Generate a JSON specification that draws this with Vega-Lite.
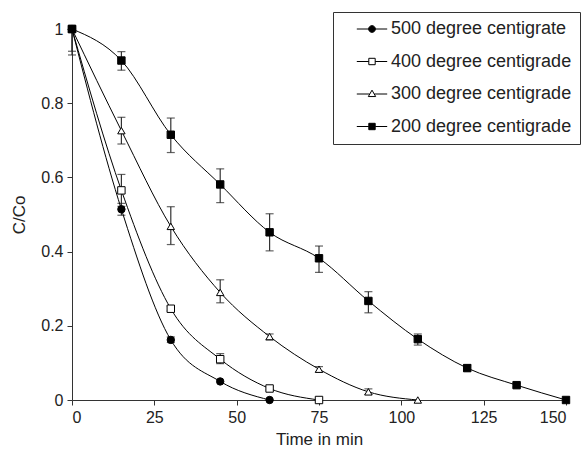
{
  "$schema": "https://vega.github.io/schema/vega-lite/v6.json",
  "width": 494,
  "height": 371,
  "autosize": "none",
  "padding": {"left": 72, "top": 29, "right": 17, "bottom": 57},
  "background": "white",
  "config": {
    "view": {"stroke": null},
    "font": "Liberation Sans",
    "axis": {"labelFont": "Liberation Sans", "titleFont": "Liberation Sans", "labelFontSize": 16, "titleFontSize": 17, "titleFontWeight": "normal", "labelColor": "#222", "titleColor": "#222", "domainColor": "#333", "tickColor": "#333", "tickSize": 5, "grid": false, "labelPadding": 4},
    "legend": {
      "orient": "none",
      "legendX": 261,
      "legendY": -17,
      "padding": 8,
      "strokeColor": "#333",
      "fillColor": "white",
      "symbolSize": 256,
      "symbolOffset": 22,
      "symbolStrokeWidth": 1,
      "symbolStrokeColor": "black",
      "symbolOpacity": 1,
      "labelFont": "Liberation Sans",
      "labelFontSize": 18,
      "labelColor": "#222",
      "labelOffset": 10,
      "labelLimit": 300,
      "rowPadding": 14.5
    }
  },
  "datasets": {
    "pts": [
      {"series": "500 degree centigrate", "time": 0, "c": 1},
      {"series": "500 degree centigrate", "time": 15, "c": 0.514},
      {"series": "500 degree centigrate", "time": 30, "c": 0.162},
      {"series": "500 degree centigrate", "time": 45, "c": 0.05},
      {"series": "500 degree centigrate", "time": 60, "c": 0},
      {"series": "400 degree centigrade", "time": 0, "c": 1},
      {"series": "400 degree centigrade", "time": 15, "c": 0.565},
      {"series": "400 degree centigrade", "time": 30, "c": 0.246},
      {"series": "400 degree centigrade", "time": 45, "c": 0.11},
      {"series": "400 degree centigrade", "time": 60, "c": 0.031},
      {"series": "400 degree centigrade", "time": 75, "c": 0},
      {"series": "300 degree centigrade", "time": 0, "c": 1},
      {"series": "300 degree centigrade", "time": 15, "c": 0.726},
      {"series": "300 degree centigrade", "time": 30, "c": 0.468},
      {"series": "300 degree centigrade", "time": 45, "c": 0.29},
      {"series": "300 degree centigrade", "time": 60, "c": 0.171},
      {"series": "300 degree centigrade", "time": 75, "c": 0.083},
      {"series": "300 degree centigrade", "time": 90, "c": 0.022},
      {"series": "300 degree centigrade", "time": 105, "c": 0},
      {"series": "200 degree centigrade", "time": 0, "c": 1},
      {"series": "200 degree centigrade", "time": 15, "c": 0.915},
      {"series": "200 degree centigrade", "time": 30, "c": 0.715},
      {"series": "200 degree centigrade", "time": 45, "c": 0.581},
      {"series": "200 degree centigrade", "time": 60, "c": 0.452},
      {"series": "200 degree centigrade", "time": 75, "c": 0.382},
      {"series": "200 degree centigrade", "time": 90, "c": 0.267},
      {"series": "200 degree centigrade", "time": 105, "c": 0.164},
      {"series": "200 degree centigrade", "time": 120, "c": 0.086},
      {"series": "200 degree centigrade", "time": 135, "c": 0.04},
      {"series": "200 degree centigrade", "time": 150, "c": 0}
    ],
    "err": [
      {"series": "400 degree centigrade", "time": 0, "lo": 0.93, "hi": 1},
      {"series": "500 degree centigrate", "time": 0, "lo": 0.94, "hi": 1},
      {"series": "500 degree centigrate", "time": 15, "lo": 0.498, "hi": 0.53},
      {"series": "500 degree centigrate", "time": 30, "lo": 0.155, "hi": 0.17},
      {"series": "400 degree centigrade", "time": 15, "lo": 0.522, "hi": 0.608},
      {"series": "400 degree centigrade", "time": 30, "lo": 0.24, "hi": 0.252},
      {"series": "400 degree centigrade", "time": 45, "lo": 0.098, "hi": 0.125},
      {"series": "400 degree centigrade", "time": 60, "lo": 0.027, "hi": 0.036},
      {"series": "300 degree centigrade", "time": 15, "lo": 0.69, "hi": 0.762},
      {"series": "300 degree centigrade", "time": 30, "lo": 0.419, "hi": 0.521},
      {"series": "300 degree centigrade", "time": 45, "lo": 0.262, "hi": 0.324},
      {"series": "300 degree centigrade", "time": 60, "lo": 0.162, "hi": 0.178},
      {"series": "300 degree centigrade", "time": 75, "lo": 0.075, "hi": 0.09},
      {"series": "300 degree centigrade", "time": 90, "lo": 0.015, "hi": 0.03},
      {"series": "200 degree centigrade", "time": 15, "lo": 0.889, "hi": 0.939},
      {"series": "200 degree centigrade", "time": 30, "lo": 0.667, "hi": 0.76},
      {"series": "200 degree centigrade", "time": 45, "lo": 0.532, "hi": 0.623},
      {"series": "200 degree centigrade", "time": 60, "lo": 0.402, "hi": 0.502},
      {"series": "200 degree centigrade", "time": 75, "lo": 0.344, "hi": 0.415},
      {"series": "200 degree centigrade", "time": 90, "lo": 0.235, "hi": 0.292},
      {"series": "200 degree centigrade", "time": 105, "lo": 0.148, "hi": 0.178},
      {"series": "200 degree centigrade", "time": 120, "lo": 0.078, "hi": 0.095},
      {"series": "200 degree centigrade", "time": 135, "lo": 0.035, "hi": 0.045}
    ]
  },
  "layer": [
    {
      "data": {"name": "err"},
      "mark": {"type": "rule", "color": "#333", "strokeWidth": 1.2},
      "encoding": {
        "x": {"field": "time", "type": "quantitative", "scale": {"domain": [0, 150], "nice": false}, "axis": {"values": [0, 25, 50, 75, 100, 125, 150], "title": "Time in min", "titlePadding": 6}},
        "y": {"field": "lo", "type": "quantitative", "scale": {"domain": [0, 1], "nice": false}, "axis": {"values": [0, 0.2, 0.4, 0.6, 0.8, 1], "format": ".1~f", "title": "C/Co", "titlePadding": 12}},
        "y2": {"field": "hi"}
      }
    },
    {
      "data": {"name": "err"},
      "mark": {"type": "tick", "orient": "horizontal", "color": "#222", "size": 8, "thickness": 1.2},
      "encoding": {
        "x": {"field": "time", "type": "quantitative"},
        "y": {"field": "lo", "type": "quantitative"}
      }
    },
    {
      "data": {"name": "err"},
      "mark": {"type": "tick", "orient": "horizontal", "color": "#222", "size": 8, "thickness": 1.2},
      "encoding": {
        "x": {"field": "time", "type": "quantitative"},
        "y": {"field": "hi", "type": "quantitative"}
      }
    },
    {
      "data": {"name": "pts"},
      "mark": {"type": "line", "color": "black", "strokeWidth": 1, "interpolate": "monotone"},
      "encoding": {
        "x": {"field": "time", "type": "quantitative"},
        "y": {"field": "c", "type": "quantitative"},
        "detail": {"field": "series"}
      }
    },
    {
      "data": {"name": "pts"},
      "mark": {"type": "point", "filled": false, "stroke": "black", "strokeWidth": 1, "opacity": 1, "size": 55},
      "encoding": {
        "x": {"field": "time", "type": "quantitative"},
        "y": {"field": "c", "type": "quantitative"},
        "shape": {"field": "series", "type": "nominal", "scale": {"domain": ["500 degree centigrate", "400 degree centigrade", "300 degree centigrade", "200 degree centigrade"], "range": ["circle", "square", "triangle-up", "square"]}, "legend": null},
        "fill": {"field": "series", "type": "nominal", "scale": {"domain": ["500 degree centigrate", "400 degree centigrade", "300 degree centigrade", "200 degree centigrade"], "range": ["black", "white", "white", "black"]}, "legend": null}
      }
    },
    {
      "data": {"name": "pts"},
      "mark": {"type": "point", "filled": false, "stroke": "black", "strokeWidth": 1, "opacity": 0, "size": 256},
      "encoding": {
        "x": {"field": "time", "type": "quantitative"},
        "y": {"field": "c", "type": "quantitative"},
        "fill": {"field": "series", "type": "nominal", "legend": {"title": null, "encode": {"symbols": {"update": {"opacity": {"value": 1}, "stroke": {"value": "black"}}}}}},
        "shape": {
          "field": "series", "type": "nominal",
          "scale": {"domain": ["500 degree centigrate", "400 degree centigrade", "300 degree centigrade", "200 degree centigrade"],
            "range": [
              "M-1.9,0H-0.4M0.4,0H1.9M-0.42,0A0.42,0.42,0,1,0,0.42,0A0.42,0.42,0,1,0,-0.42,0Z",
              "M-1.9,0H-0.4M0.4,0H1.9M-0.4,-0.4H0.4V0.4H-0.4Z",
              "M-1.9,0H-0.3M0.3,0H1.9M0,-0.48L0.46,0.32L-0.46,0.32Z",
              "M-1.9,0H-0.4M0.4,0H1.9M-0.4,-0.4H0.4V0.4H-0.4Z"
            ]},
          "legend": {"title": null, "encode": {"symbols": {"update": {"opacity": {"value": 1}, "stroke": {"value": "black"}}}}}
        }
      }
    }
  ],
  "resolve": {"scale": {"shape": "independent"}, "legend": {"shape": "independent", "fill": "independent"}}
}
